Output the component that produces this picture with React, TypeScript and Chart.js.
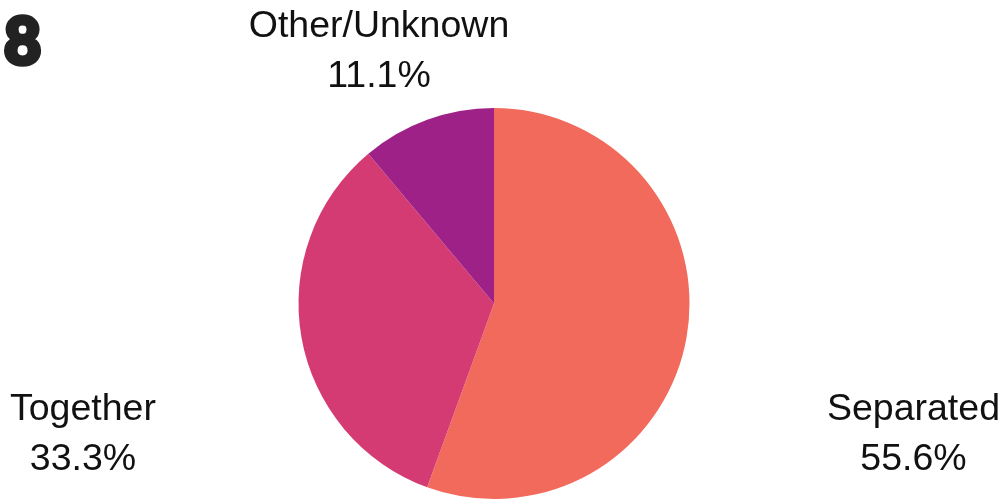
import React, { useEffect, useRef } from "react";
import { Chart, registerables } from "chart.js";

Chart.register(...registerables);

const categories: string[] = ["Separated", "Together", "Other/Unknown"];
const counts: number[] = [5, 3, 1];
const sliceColors: string[] = ["#f16a5b", "#d43b73", "#9e2187"];
const cardNumber = "8";

const outLabels = {
  id: "outLabels",
  afterDraw(chart: any) {
    const ctx = chart.ctx;
    const meta = chart.getDatasetMeta(0);
    const data = chart.data.datasets[0].data as number[];
    const total = data.reduce((a, b) => a + b, 0);
    const W = chart.width;
    ctx.save();
    ctx.font = "37.5px Arial, 'Liberation Sans', sans-serif";
    ctx.fillStyle = "#111";
    ctx.textBaseline = "alphabetic";
    meta.data.forEach((arc: any, i: number) => {
      const { x: cx, y: cy, startAngle, endAngle, outerRadius: r } = arc.getProps(
        ["x", "y", "startAngle", "endAngle", "outerRadius"],
        true
      );
      const a = (startAngle + endAngle) / 2;
      const cos = Math.cos(a);
      const sin = Math.sin(a);
      const line1 = chart.data.labels[i] as string;
      const line2 = ((data[i] / total) * 100).toFixed(1) + "%";
      const w = Math.max(ctx.measureText(line1).width, ctx.measureText(line2).width);
      let x: number;
      let y: number;
      if (Math.abs(sin) > 0.7) {
        x = cx + cos * r * 1.72;
        y = cy + sin * r * 1.39;
      } else {
        x = cos > 0 ? W - 5 - w / 2 : 10 + w / 2;
        y = cy + r * 0.65;
      }
      ctx.textAlign = "center";
      ctx.fillText(line1, x, y - 11);
      ctx.fillText(line2, x, y + 39);
    });
    ctx.restore();
  },
};

export default function App() {
  const ref = useRef<HTMLCanvasElement | null>(null);

  useEffect(() => {
    if (!ref.current) return;
    const chart = new Chart(ref.current, {
      type: "pie",
      data: {
        labels: categories,
        datasets: [
          {
            data: counts,
            backgroundColor: sliceColors,
            borderWidth: 0,
          },
        ],
      },
      options: {
        animation: false,
        responsive: true,
        maintainAspectRatio: false,
        layout: { padding: { top: 108, bottom: 0, left: 200, right: 217 } },
        plugins: {
          legend: { display: false },
          tooltip: { enabled: false },
        },
      },
      plugins: [outLabels],
    });
    return () => chart.destroy();
  }, []);

  return (
    <div
      style={{
        position: "fixed",
        left: 0,
        top: 0,
        width: 1005,
        height: 499,
        background: "#fff",
      }}
    >
      <div
        style={{
          position: "absolute",
          left: 4,
          top: 1,
          fontFamily: "Lato, sans-serif",
          fontWeight: 900,
          fontSize: 64,
          color: "#222",
          lineHeight: "normal",
          WebkitTextStroke: "4.5px #222",
        }}
      >
        {cardNumber}
      </div>
      <canvas ref={ref} style={{ width: 1005, height: 499 }} />
    </div>
  );
}
